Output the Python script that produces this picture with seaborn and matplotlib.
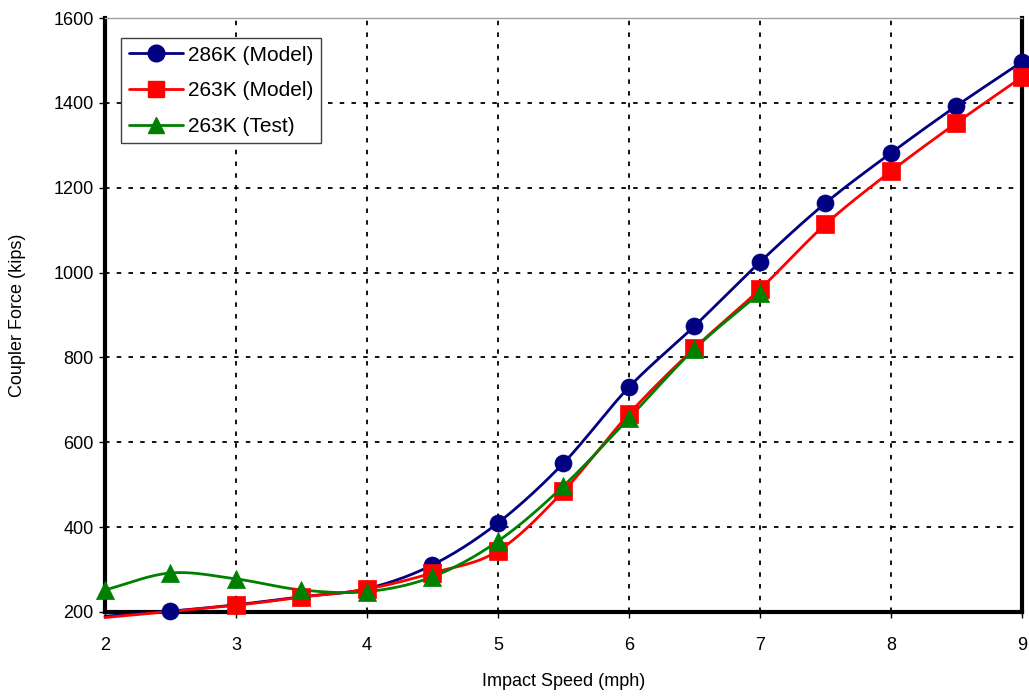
import numpy as np
import pandas as pd
import matplotlib
matplotlib.use("Agg")
import matplotlib.pyplot as plt
import seaborn as sns

# Coupler force vs impact speed
speed_286_model = [2.0, 2.5, 3.0, 3.5, 4.0, 4.5, 5.0, 5.5, 6.0, 6.5, 7.0, 7.5, 8.0, 8.5, 9.0]
force_286_model = [190, 202, 217, 236, 255, 311, 410, 551, 730, 874, 1025, 1164, 1282, 1393, 1497]

speed_263_model = [2.0, 3.0, 3.5, 4.0, 4.5, 5.0, 5.5, 6.0, 6.5, 7.0, 7.5, 8.0, 8.5, 9.0]
force_263_model = [187, 216, 235, 254, 292, 344, 485, 667, 822, 961, 1114, 1239, 1353, 1461]

speed_263_test = [2.0, 2.5, 3.0, 3.5, 4.0, 4.5, 5.0, 5.5, 6.0, 6.5, 7.0]
force_263_test = [252, 292, 278, 252, 248, 283, 367, 497, 657, 820, 952]

series_names = ["286K (Model)", "263K (Model)", "263K (Test)"]
x_ticks = [2, 3, 4, 5, 6, 7, 8, 9]
y_ticks = [200, 400, 600, 800, 1000, 1200, 1400, 1600]
Y_MIN, Y_MAX = 200, 1600


def smooth(xs, ys, n=30):
    """Cubic Bezier smoothing through every point (spreadsheet-style)."""
    x = np.asarray(xs, float)
    y = np.asarray(ys, float)
    px = np.concatenate([[2 * x[0] - x[1]], x, [2 * x[-1] - x[-2]]])
    py = np.concatenate([[2 * y[0] - y[1]], y, [2 * y[-1] - y[-2]]])
    out_x, out_y = [], []
    t = np.linspace(0, 1, n, endpoint=False)
    for i in range(1, len(px) - 2):
        p0, p1, p2, p3 = [np.array([px[j], py[j]]) for j in (i - 1, i, i + 1, i + 2)]
        c1 = p1 + (p2 - p0) / 6.0
        c2 = p2 - (p3 - p1) / 6.0
        b = ((1 - t) ** 3)[:, None] * p1 + (3 * (1 - t) ** 2 * t)[:, None] * c1 \
            + (3 * (1 - t) * t ** 2)[:, None] * c2 + (t ** 3)[:, None] * p2
        out_x.extend(b[:, 0])
        out_y.extend(b[:, 1])
    out_x.append(x[-1])
    out_y.append(y[-1])
    return out_x, out_y


sns.set_theme(style="white")
plt.rcParams["font.family"] = ["Liberation Sans", "DejaVu Sans"]
plt.rcParams["text.color"] = "black"
plt.rcParams["axes.labelcolor"] = "black"
plt.rcParams["xtick.color"] = "black"
plt.rcParams["ytick.color"] = "black"

fig = plt.figure(figsize=(10.29, 6.96), dpi=100)
ax = fig.add_axes([0.102, 0.1207, 0.8912, 0.8533])

colors = ["#000080", "#FF0000", "#008000"]
markers = ["o", "s", "^"]
series = [(speed_286_model, force_286_model),
          (speed_263_model, force_263_model),
          (speed_263_test, force_263_test)]

handles = []
for (xs, ys), name, c, m in zip(series, series_names, colors, markers):
    sx, sy = smooth(xs, ys)
    curve = pd.DataFrame({"speed": sx, "force": sy})
    n_lines = len(ax.lines)
    sns.lineplot(data=curve, x="speed", y="force", ax=ax, color=c,
                 linewidth=2.0, sort=False, estimator=None, zorder=3)
    for ln in ax.lines[n_lines:]:
        ln.set_clip_on(False)
    # markers only where the point lies inside the value range
    pts = pd.DataFrame({"speed": xs, "force": ys})
    pts = pts[(pts["force"] >= Y_MIN) & (pts["force"] <= Y_MAX)]
    n_coll = len(ax.collections)
    sns.scatterplot(data=pts, x="speed", y="force", ax=ax, color=c, marker=m,
                    s=150 if m != "^" else 170, edgecolor=c, linewidth=0.5,
                    zorder=4)
    for coll in ax.collections[n_coll:]:
        coll.set_clip_on(False)
    h, = ax.plot([], [], color=c, marker=m, markersize=12, linewidth=2.0,
                 markeredgecolor=c, label=name)
    handles.append(h)

ax.set_xlim(2, 9)
ax.set_ylim(Y_MIN, Y_MAX)
ax.set_xticks(x_ticks)
ax.set_yticks(y_ticks)
ax.set_xticklabels([str(v) for v in x_ticks], fontsize=13)
ax.set_yticklabels([str(v) for v in y_ticks], fontsize=13)
ax.set_xlabel("Impact Speed (mph)", fontsize=13, labelpad=14)
ax.set_ylabel("Coupler Force (kips)", fontsize=13, labelpad=20)

ax.grid(True, color="black", linestyle=(0, (2.5, 4)), linewidth=1.3)
ax.set_axisbelow(True)
ax.tick_params(axis="both", which="both", direction="out", length=4,
               width=1, color="black", bottom=True, left=True, pad=14)
ax.tick_params(axis="y", pad=4)

for side in ("left", "bottom", "right"):
    ax.spines[side].set_color("black")
    ax.spines[side].set_linewidth(3)
ax.spines["top"].set_color("#a0a0a0")
ax.spines["top"].set_linewidth(1)

leg = ax.legend(handles=handles, loc="upper left",
                bbox_to_anchor=(0.018, 0.966), fontsize=15, frameon=True,
                fancybox=False, edgecolor="#404040", framealpha=1,
                borderpad=0.35, labelspacing=0.8, handlelength=2.6,
                handletextpad=0.25, borderaxespad=0.0)
leg.get_frame().set_linewidth(1)

fig.savefig("out.png", dpi=100)
